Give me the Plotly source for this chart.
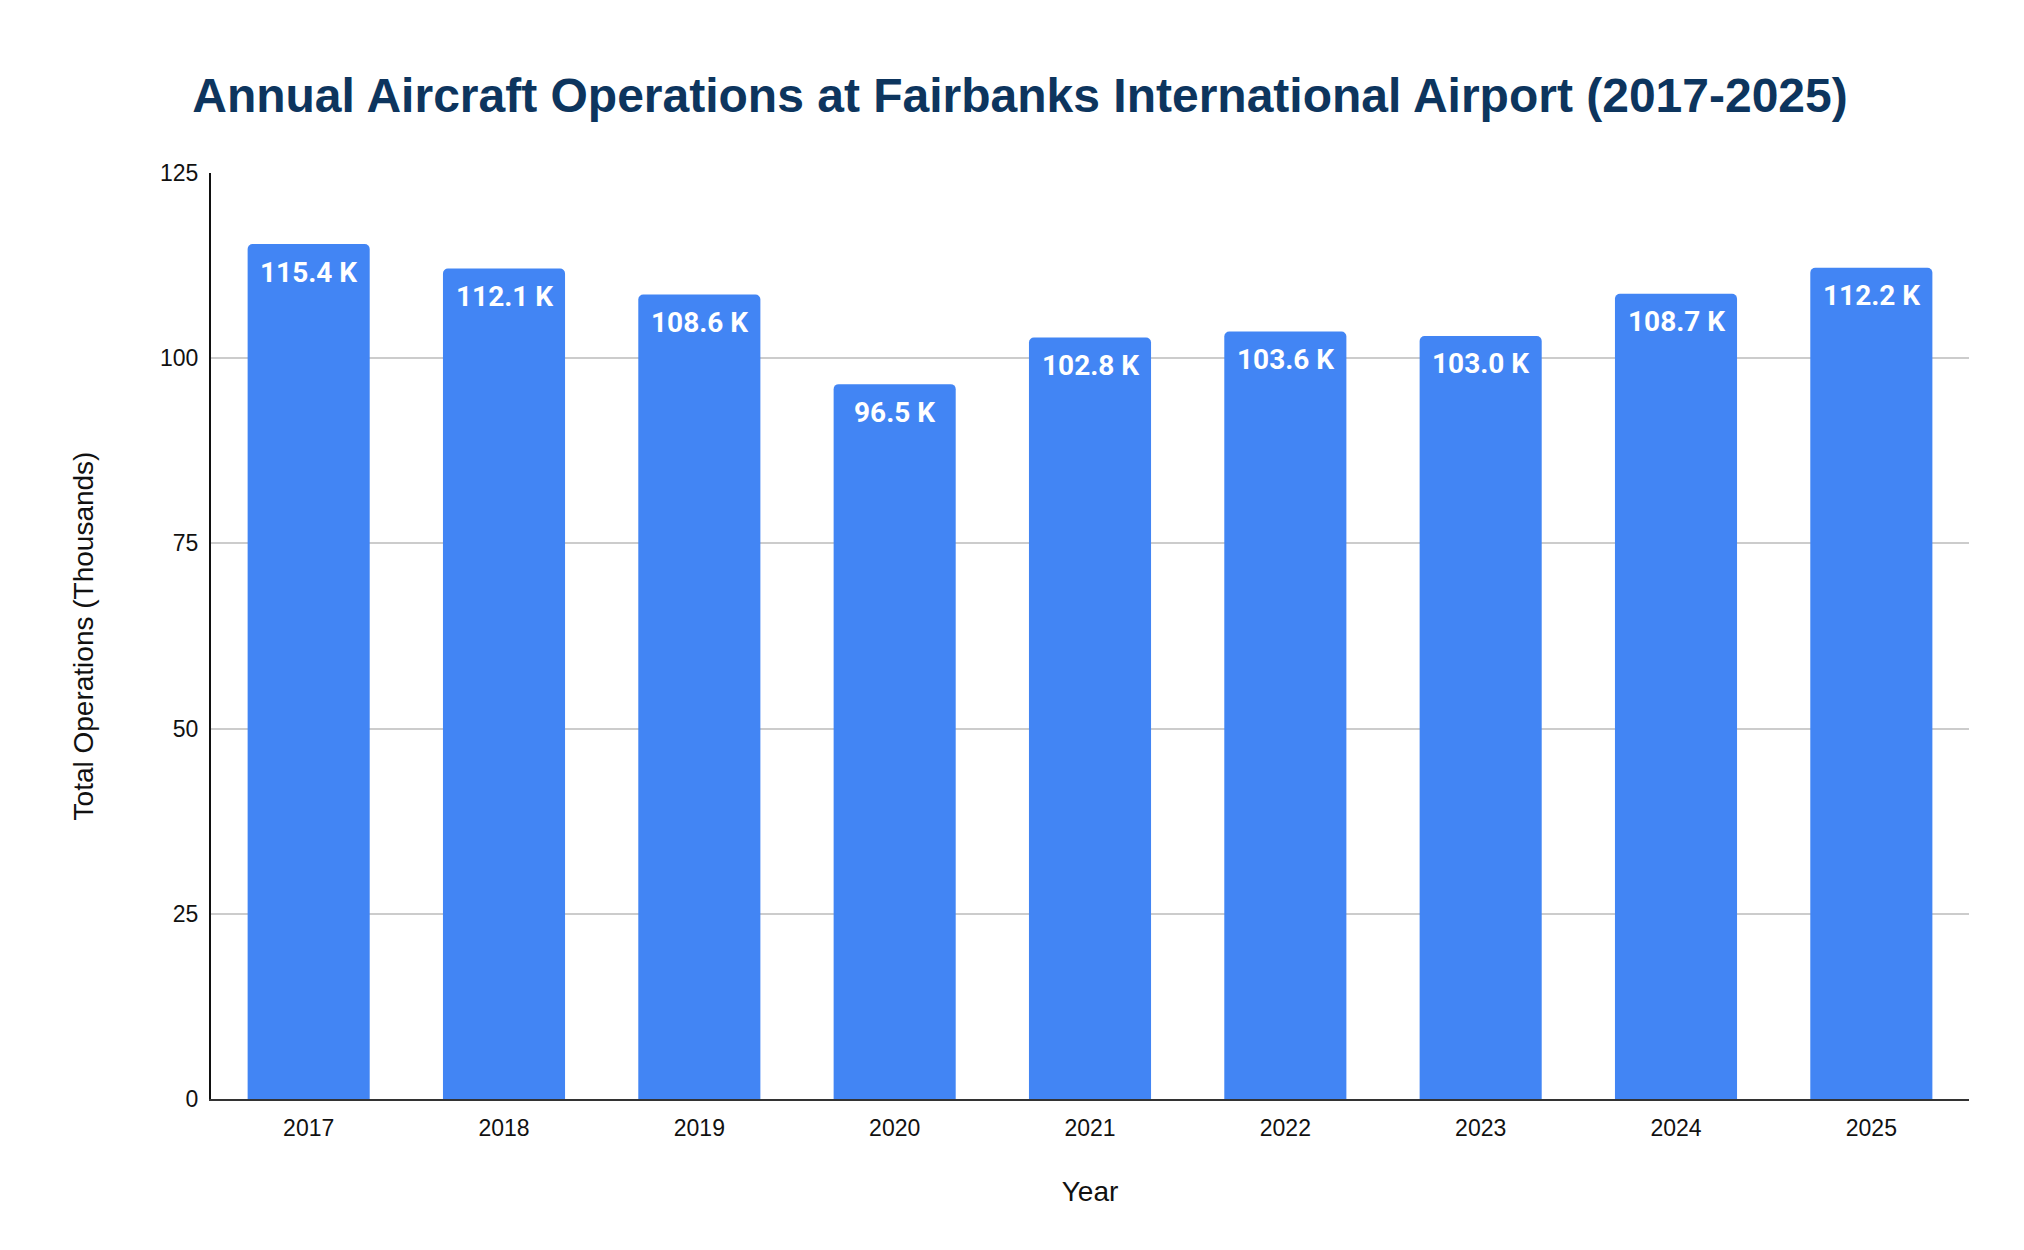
import plotly.graph_objects as go

years = ["2017", "2018", "2019", "2020", "2021", "2022", "2023", "2024", "2025"]
operations = [115.4, 112.1, 108.6, 96.5, 102.8, 103.6, 103.0, 108.7, 112.2]
y_ticks = [0, 25, 50, 75, 100, 125]

bar_labels = [f"{v:.1f} K" for v in operations]

fig = go.Figure(
    go.Bar(
        x=years,
        y=operations,
        marker=dict(color="#4285F4", cornerradius=5, line=dict(width=0)),
        hoverinfo="x+y",
    )
)

# value labels sit just inside the top of each bar
# (category axis -> annotations placed by category index)
for i, (v, lab) in enumerate(zip(operations, bar_labels)):
    fig.add_annotation(
        x=i, y=v, text=f"<b>{lab}</b>",
        showarrow=False, yanchor="middle", yshift=-28,
        font=dict(family="Roboto", size=28, color="white"),
    )

fig.update_layout(
    width=2024,
    height=1250,
    paper_bgcolor="white",
    plot_bgcolor="white",
    showlegend=False,
    bargap=0.375,
    margin=dict(l=203, r=63, t=165, b=159),
    title=dict(
        text="<b>Annual Aircraft Operations at Fairbanks International Airport (2017-2025)</b>",
        font=dict(family="Liberation Sans, Arial", size=48, color="#0d355e"),
        x=0.5,
        xanchor="center",
        y=1 - 87 / 1250,
        yanchor="middle",
    ),
    xaxis=dict(
        type="category",
        showgrid=False,
        showline=True,
        linecolor="#333333",
        linewidth=2,
        ticks="",
        ticklabelstandoff=7,
        tickfont=dict(family="Liberation Sans, Arial", size=23, color="#111111"),
        title=dict(
            text="Year",
            font=dict(family="Liberation Sans, Arial", size=28, color="#111111"),
            standoff=42,
        ),
        automargin=False,
    ),
    yaxis=dict(
        range=[0, 125],
        tickvals=y_ticks,
        showgrid=True,
        gridcolor="#cccccc",
        gridwidth=1.5,
        showline=True,
        linecolor="#111111",
        linewidth=2,
        zeroline=False,
        ticks="",
        ticklabelstandoff=6,
        tickfont=dict(family="Liberation Sans, Arial", size=23, color="#111111"),
        title=dict(
            text="Total Operations (Thousands)",
            font=dict(family="Liberation Sans, Arial", size=28, color="#111111"),
            standoff=58,
        ),
        automargin=False,
    ),
)

fig.write_html("out.html")
